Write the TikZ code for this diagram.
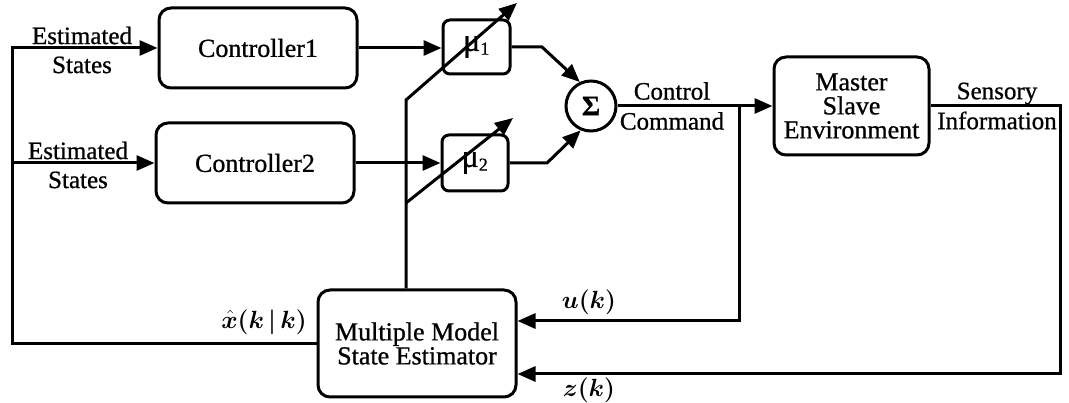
\documentclass[tikz,border=0pt]{standalone}
\usepackage{bm}
\usepackage{fontspec}
\setmainfont{Liberation Serif}[FakeBold=0.8]
\usetikzlibrary{arrows.meta}
\begin{document}
\begin{tikzpicture}[x=1pt,y=-1pt,
  line width=3pt,
  font=\fontsize{26}{28}\selectfont,
  blk/.style={draw,rounded corners=12pt,inner sep=0pt,align=center},
  arr/.style={-{Triangle[length=18pt,width=15pt]}},
  lbl/.style={inner sep=0pt,align=center,font=\fontsize{25}{29}\selectfont},
  mlbl/.style={inner sep=0pt,font=\fontsize{27}{29}\selectfont}]
\useasboundingbox (0,0) rectangle (1069,403);
% blocks
\node[blk,minimum width=198pt,minimum height=80pt] (c1) at (258,48) {Controller1};
\node[blk,minimum width=198pt,minimum height=80pt] (c2) at (255,163) {Controller2};
\node[blk,rounded corners=7pt,minimum width=67pt,minimum height=54pt] (m1) at (476.5,47) {{\fontsize{32}{32}\selectfont μ}\textsubscript{1}};
\node[blk,rounded corners=7pt,minimum width=66pt,minimum height=56pt] (m2) at (475,163) {{\fontsize{32}{32}\selectfont μ}\textsubscript{2}};
\node[draw,circle,minimum size=50pt,inner sep=0pt,font=\fontsize{28}{28}\selectfont\bfseries] (sum) at (591,106) {Σ};
\node[blk,minimum width=155pt,minimum height=98pt] (ms) at (851.5,106) {Master\\[-4pt]Slave\\[-4pt]Environment};
\node[blk,minimum width=198pt,minimum height=107pt] (est) at (417,343.5) {Multiple Model\\[-4pt]State Estimator};
% coordinates
\coordinate (L1) at (12,48);
\coordinate (L2) at (12,163);
\coordinate (L3) at (12,343.5);
\coordinate (v1) at (406,100);
\coordinate (v2) at (406,203);
\coordinate (t1) at (517,3);
\coordinate (t2) at (513,118);
\coordinate (b1) at (542,47);
\coordinate (b2) at (547,163);
\coordinate (uB) at (739,106);
\coordinate (uD) at (739,321);
\coordinate (zR) at (1060,106);
\coordinate (zD) at (1060,374);
% connectors
\draw[arr] (est.west) -- (L3) -- (L1) -- (c1.west);
\draw[arr] (L2) -- (c2.west);
\draw[arr] (c1.east) -- (c1.east -| m1.west);
\draw[arr] (c2.east) -- (m2.west);
\draw[arr] (est.north -| v1) -- (v1) -- (t1);
\draw[arr] (v2) -- (t2);
\draw[arr] (m1.east) -- (b1) -- (sum.115);
\draw[arr] (m2.east) -- (b2) -- (sum.247);
\draw[arr] (sum.east) -- (ms.west);
\draw[arr] (uB) -- (uD) -- (uD -| est.east);
\draw[arr] (ms.east) -- (zR) -- (zD) -- (zD -| est.east);
% labels
\node[lbl] (e1) at (82,50) {Estimated\\States};
\node[lbl] (e2) at (78,165) {Estimated\\States};
\node[lbl] (cc) at (672,106) {Control\\[1pt]Command};
\node[lbl] (si) at (997,106) {Sensory\\[1pt]Information};
\node[mlbl] (xh) at (264,322) {$\bm{\hat{x}(k\,|\,k)}$};
\node[mlbl] (uk) at (589,302) {$\bm{u(k)}$};
\node[mlbl] (zk) at (589,390) {$\bm{z(k)}$};
\end{tikzpicture}
\end{document}
